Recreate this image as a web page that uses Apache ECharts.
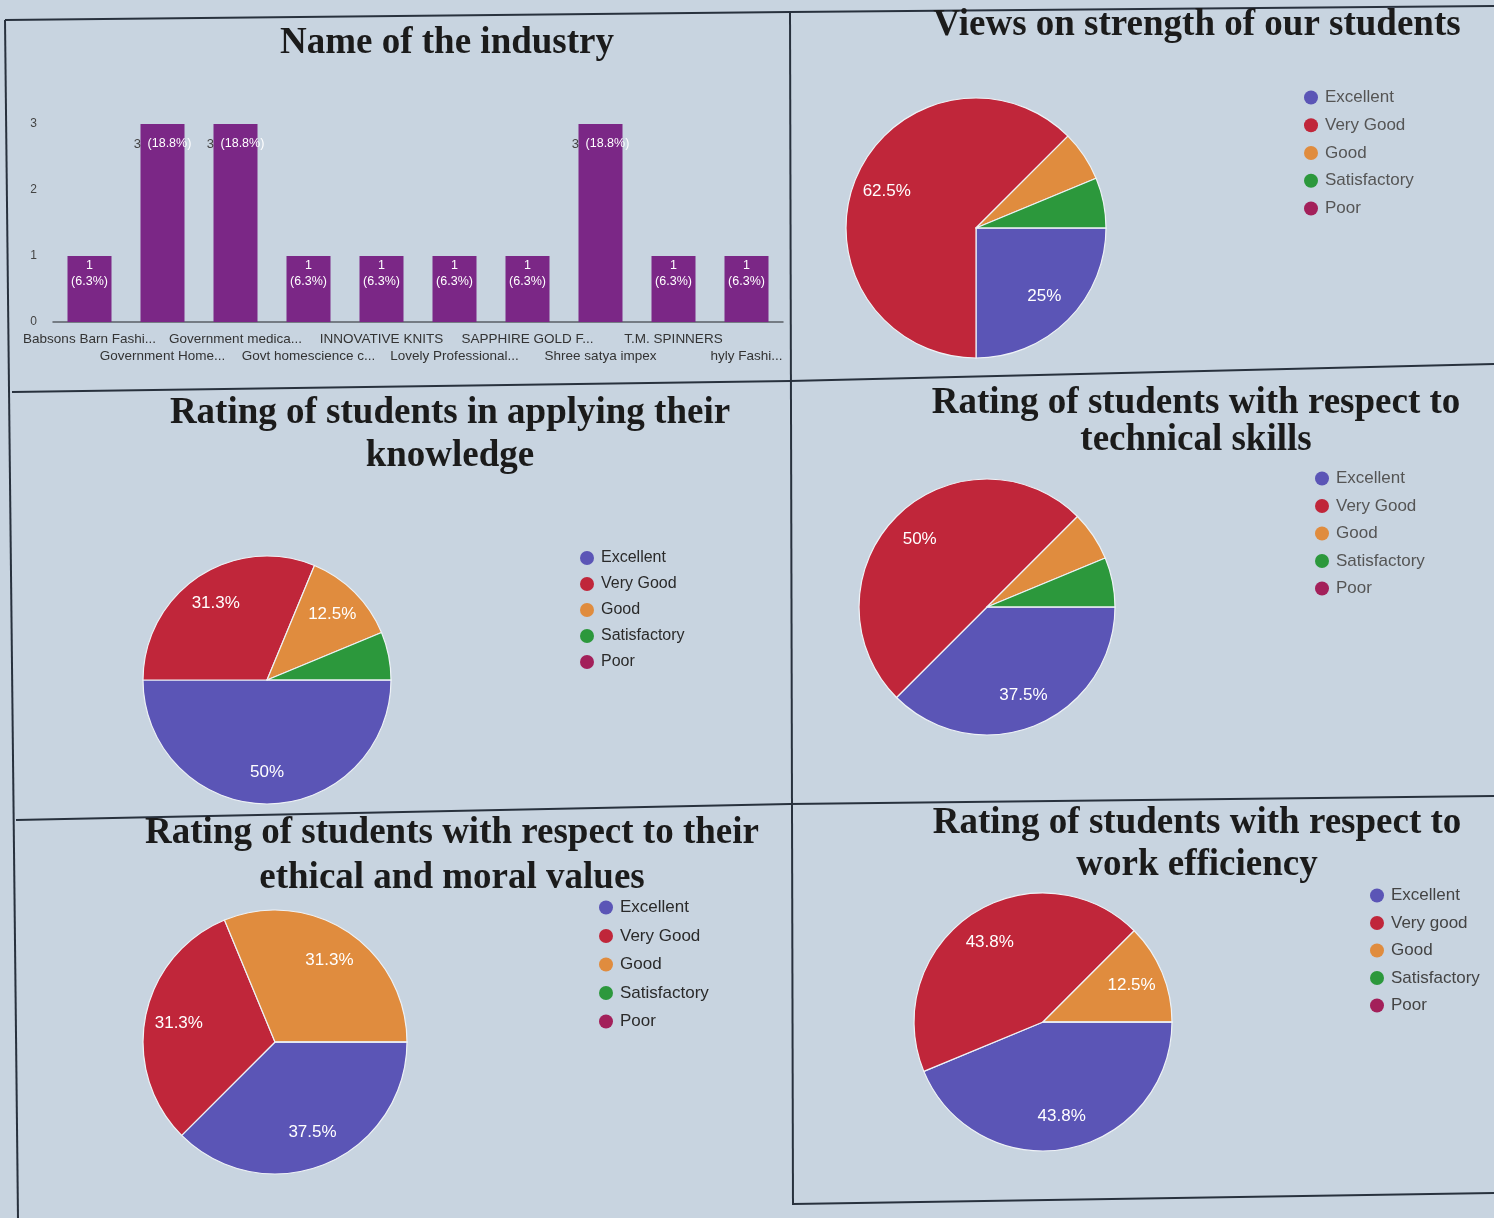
<!DOCTYPE html>
<html><head><meta charset="utf-8">
<script src="https://cdn.jsdelivr.net/npm/echarts@6/dist/echarts.min.js"></script>
<style>html,body{margin:0;padding:0;background:#c8d4e0;} #c{width:1494px;height:1218px;}</style>
</head><body><div id="c"></div>
<script>
// ---------- data ----------
const industries = ['Babsons Barn Fashi...','Government Home...','Government medica...','Govt homescience c...','INNOVATIVE KNITS','Lovely Professional...','SAPPHIRE GOLD F...','Shree satya impex','T.M. SPINNERS','hyly Fashi...'];
const industryCounts = [1,3,3,1,1,1,1,3,1,1];
const yTicks = [0,1,2,3];
const ratingLevels = ['Excellent','Very Good','Good','Satisfactory','Poor'];
const workLevels = ['Excellent','Very good','Good','Satisfactory','Poor'];
const strengthViews = [4,10,1,1,0];
const applyingKnowledge = [8,5,2,1,0];
const technicalSkills = [6,8,1,1,0];
const ethicalValues = [6,5,5,0,0];
const workEfficiency = [7,7,2,0,0];
const sliceColors = ['#5b55b6','#c0263a','#e08c3e','#2c983c','#a3205a'];

// ---------- helpers ----------
const SANS = '"Liberation Sans", Arial, sans-serif';
const SERIF = '"Liberation Serif", "Times New Roman", serif';
function pct(v, total){ return String(Math.round(v / total * 1000) / 10); }
const sum = a => a.reduce((s, x) => s + x, 0);

const pies = [
  {title:'Views on strength of our students', tx:1197, ty:25, lh:40, names:ratingLevels, values:strengthViews, cx:976, cy:228, r:130,
   lg:{left:1299, top:84, gap:10.75, size:17, color:'#555'}},
  {title:'Rating of students in applying their\nknowledge', tx:450, ty:434.5, lh:43, names:ratingLevels, values:applyingKnowledge, cx:267, cy:680, r:124,
   lg:{left:575, top:545, gap:10, size:16, color:'#2a2a2a'}},
  {title:'Rating of students with respect to\ntechnical skills', tx:1196, ty:421.5, lh:37, names:ratingLevels, values:technicalSkills, cx:987, cy:607, r:128,
   lg:{left:1310, top:465, gap:10.5, size:17, color:'#555'}},
  {title:'Rating of students with respect to their\nethical and moral values', tx:452, ty:855.5, lh:45, names:ratingLevels, values:ethicalValues, cx:275, cy:1042, r:132,
   lg:{left:594, top:894, gap:11.5, size:17, color:'#2a2a2a'}},
  {title:'Rating of students with respect to\nwork efficiency', tx:1197, ty:844, lh:42, names:workLevels, values:workEfficiency, cx:1043, cy:1022, r:129,
   lg:{left:1365, top:882, gap:10.5, size:17, color:'#444'}}
];

const series = [];
const legends = [];
const graphics = [];

// border lines
const lineStyle = {stroke:'#28313d', lineWidth:2, fill:null};
[
  [[5,20],[790,12],[1494,6]],
  [[5,20],[18,1218]],
  [[790,12],[793,1205]],
  [[12,392],[790,381],[1494,364]],
  [[16,820],[790,804],[1494,796]],
  [[793,1204],[1494,1193]]
].forEach(pts => graphics.push({type:'polyline', shape:{points:pts}, style:lineStyle, silent:true}));

// titles
const TITLE_FONT = 'bold 37px ' + SERIF;
graphics.push({type:'text', x:447, y:43, style:{text:'Name of the industry', font:TITLE_FONT, fill:'#1b1b1b', align:'center', verticalAlign:'middle'}});
pies.forEach(p => graphics.push({type:'text', x:p.tx, y:p.ty, style:{text:p.title, font:TITLE_FONT, fill:'#1b1b1b', align:'center', verticalAlign:'middle', lineHeight:p.lh}}));

// bar chart
const barTotal = sum(industryCounts);
series.push({
  type:'bar', xAxisIndex:0, yAxisIndex:0, barWidth:44, animation:false,
  itemStyle:{color:'#7b2786'},
  data: industryCounts.map(v => ({value:v, label:{distance: v >= 2 ? 12 : 2}})),
  label:{
    show:true, position:'insideTop',
    formatter: p => p.value >= 2
      ? '{d|' + p.value + '}  {w|(' + pct(p.value, barTotal) + '%)}'
      : '{w|' + p.value + '}\n{w|(' + pct(p.value, barTotal) + '%)}',
    rich:{
      d:{color:'#444', fontSize:13, fontFamily:SANS},
      w:{color:'#fff', fontSize:12.5, fontFamily:SANS, lineHeight:16}
    }
  }
});

// pies
pies.forEach(p => {
  const total = sum(p.values);
  const data = p.names.map((n, i) => ({name:n, value:p.values[i], itemStyle:{color:sliceColors[i]}}));
  series.push({
    type:'pie', center:[p.cx, p.cy], radius:[0, p.r], startAngle:0, clockwise:true,
    animation:false, silent:true, data,
    label:{show:false}, labelLine:{show:false},
    itemStyle:{borderColor:'#eef2f6', borderWidth:1.2}
  });
  series.push({
    type:'pie', center:[p.cx, p.cy], radius:[p.r * 0.44, p.r], startAngle:0, clockwise:true,
    animation:false, silent:true,
    data: p.names.map((n, i) => ({name:n, value:p.values[i]})),
    itemStyle:{color:'rgba(0,0,0,0)', borderWidth:0},
    labelLine:{show:false},
    label:{show:true, position:'inside', color:'#fff', fontSize:17, fontFamily:SANS,
      formatter: q => (q.value / total) < 0.07 ? '' : pct(q.value, total) + '%'}
  });
  legends.push({
    orient:'vertical', left:p.lg.left, top:p.lg.top, itemGap:p.lg.gap,
    icon:'circle', itemWidth:18, itemHeight:14, selectedMode:false,
    itemStyle:{borderWidth:0},
    textStyle:{fontSize:p.lg.size, color:p.lg.color, fontFamily:SANS, lineHeight:16},
    data: p.names.map((n, i) => ({name:n, itemStyle:{color:sliceColors[i], borderWidth:0}}))
  });
});

const chart = echarts.init(document.getElementById('c'));
chart.setOption({
  backgroundColor:'#c8d4e0',
  animation:false,
  grid:[{left:53, top:124, width:730, height:198}],
  xAxis:[{
    type:'category', data:industries, gridIndex:0,
    axisTick:{show:false},
    axisLine:{lineStyle:{color:'#5a5f66', width:1.5}},
    axisLabel:{interval:0, hideOverlap:false, fontSize:13.5, color:'#333', fontFamily:SANS, margin:9, lineHeight:17,
      formatter:(v, i) => i % 2 ? '\n' + v : v}
  }],
  yAxis:[{
    type:'value', gridIndex:0, min:yTicks[0], max:yTicks[yTicks.length-1], interval:1,
    axisLine:{show:false}, axisTick:{show:false},
    splitLine:{show:false},
    axisLabel:{fontSize:12, color:'#444', fontFamily:SANS, margin:16}
  }],
  legend:legends,
  series,
  graphic:graphics
});
</script>
</body></html>
